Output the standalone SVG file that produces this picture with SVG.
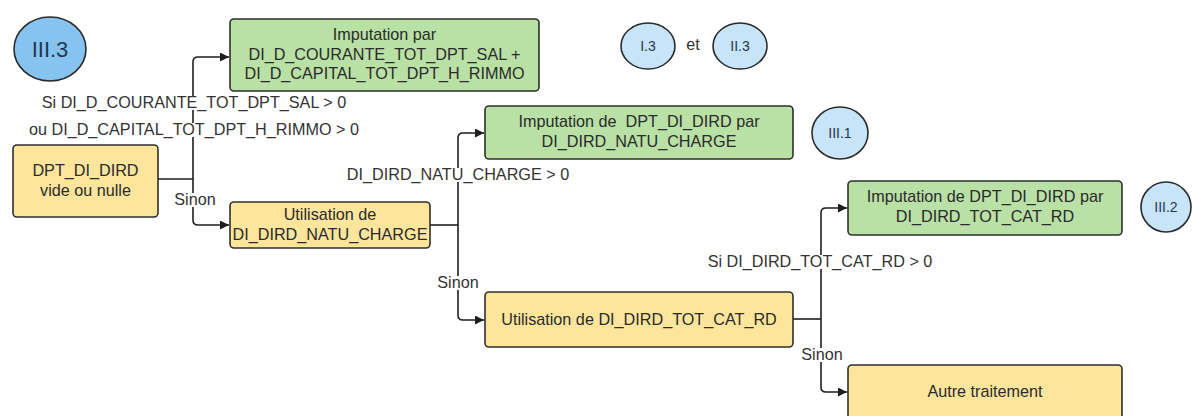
<svg xmlns="http://www.w3.org/2000/svg" width="1192" height="416" viewBox="0 0 1192 416">
  <style>
    .box { stroke: #2f2f2f; stroke-width: 1.6; }
    .green { fill: #b9e0a5; }
    .yellow { fill: #fde59c; }
    .t { font-family: "Liberation Sans", Arial, sans-serif; font-size: 16.2px; fill: #2b2b2b; text-anchor: middle; }
    .lbl { font-family: "Liberation Sans", Arial, sans-serif; font-size: 16.2px; fill: #333333; text-anchor: middle; }
    .bg { fill: #ffffff; }
    .conn { fill: none; stroke: #1e1e1e; stroke-width: 1.6; }
    .circ { stroke: #2a2a2a; stroke-width: 1.6; }
    .ref { font-family: "Liberation Sans", Arial, sans-serif; fill: #23374f; text-anchor: middle; }
  </style>
  <defs>
    <marker id="arrow" viewBox="0 0 10 10" refX="10" refY="5" markerWidth="9" markerHeight="9" markerUnits="userSpaceOnUse" orient="auto">
      <path d="M0,0 L10,5 L0,10 z" fill="#1e1e1e"/>
    </marker>
  </defs>
  <rect width="1192" height="416" fill="#ffffff"/>

  <!-- connectors -->
  <g id="connectors">
    <path class="conn" d="M158,179 H193"/>
    <path class="conn" d="M193,179 V62 Q193,57 198,57 H229" marker-end="url(#arrow)"/>
    <path class="conn" d="M193,179 V220 Q193,225 198,225 H229" marker-end="url(#arrow)"/>
    <path class="conn" d="M430,225 H458"/>
    <path class="conn" d="M458,225 V138 Q458,133 463,133 H484" marker-end="url(#arrow)"/>
    <path class="conn" d="M458,225 V315 Q458,320 463,320 H484" marker-end="url(#arrow)"/>
    <path class="conn" d="M793,319 H821"/>
    <path class="conn" d="M821,319 V213 Q821,208 826,208 H847" marker-end="url(#arrow)"/>
    <path class="conn" d="M821,319 V387 Q821,392 826,392 H847" marker-end="url(#arrow)"/>

    <!-- connector labels -->
    <rect class="bg" x="40" y="96" width="308" height="14"/>
    <text class="lbl" x="194" y="108">Si DI_D_COURANTE_TOT_DPT_SAL &gt; 0</text>
    <rect class="bg" x="28" y="123" width="333" height="14"/>
    <text class="lbl" x="194" y="135">ou DI_D_CAPITAL_TOT_DPT_H_RIMMO &gt; 0</text>
    <rect class="bg" x="173" y="193" width="44" height="14"/>
    <text class="lbl" x="195" y="205">Sinon</text>
    <rect class="bg" x="346" y="168" width="225" height="14"/>
    <text class="lbl" x="458" y="180">DI_DIRD_NATU_CHARGE &gt; 0</text>
    <rect class="bg" x="436" y="276" width="44" height="14"/>
    <text class="lbl" x="458" y="288">Sinon</text>
    <rect class="bg" x="707" y="255" width="227" height="14"/>
    <text class="lbl" x="820" y="267">Si DI_DIRD_TOT_CAT_RD &gt; 0</text>
    <rect class="bg" x="800" y="348" width="44" height="14"/>
    <text class="lbl" x="822" y="360">Sinon</text>
  </g>

  <!-- reference circles -->
  <g id="ref-III3">
    <ellipse class="circ" cx="50" cy="49" rx="36" ry="32" fill="#86c3ee"/>
    <text class="ref" x="50" y="57" font-size="22">III.3</text>
  </g>
  <g id="ref-I3">
    <ellipse class="circ" cx="648" cy="46" rx="27" ry="23" fill="#c8e4f8"/>
    <text class="ref" x="648" y="51" font-size="14">I.3</text>
  </g>
  <text id="et" class="lbl" x="693" y="50" font-size="14">et</text>
  <g id="ref-II3">
    <ellipse class="circ" cx="740" cy="46" rx="27" ry="23" fill="#c8e4f8"/>
    <text class="ref" x="740" y="51" font-size="14">II.3</text>
  </g>
  <g id="ref-III1">
    <ellipse class="circ" cx="840" cy="133" rx="28" ry="26" fill="#c8e4f8"/>
    <text class="ref" x="840" y="138" font-size="14">III.1</text>
  </g>
  <g id="ref-III2">
    <ellipse class="circ" cx="1166" cy="207" rx="25" ry="25" fill="#c8e4f8"/>
    <text class="ref" x="1166" y="212" font-size="14">III.2</text>
  </g>

  <!-- process nodes -->
  <g id="start">
    <rect class="box yellow" x="13" y="145" width="145" height="72" rx="4"/>
    <text class="t" x="85.5" y="176">DPT_DI_DIRD</text>
    <text class="t" x="85.5" y="196">vide ou nulle</text>
  </g>
  <g id="imputation-courante-capital">
    <rect class="box green" x="230" y="19" width="309" height="72" rx="4"/>
    <text class="t" x="384.5" y="40">Imputation par</text>
    <text class="t" x="384.5" y="60">DI_D_COURANTE_TOT_DPT_SAL +</text>
    <text class="t" x="384.5" y="79">DI_D_CAPITAL_TOT_DPT_H_RIMMO</text>
  </g>
  <g id="utilisation-natu">
    <rect class="box yellow" x="230" y="202" width="200" height="46" rx="4"/>
    <text class="t" x="330" y="220">Utilisation de</text>
    <text class="t" x="330" y="240">DI_DIRD_NATU_CHARGE</text>
  </g>
  <g id="imputation-natu">
    <rect class="box green" x="485" y="106" width="308" height="53" rx="4"/>
    <text class="t" x="639" y="127" xml:space="preserve">Imputation de  DPT_DI_DIRD par</text>
    <text class="t" x="639" y="147">DI_DIRD_NATU_CHARGE</text>
  </g>
  <g id="utilisation-cat">
    <rect class="box yellow" x="485" y="292" width="308" height="55" rx="4"/>
    <text class="t" x="639" y="325">Utilisation de DI_DIRD_TOT_CAT_RD</text>
  </g>
  <g id="imputation-cat">
    <rect class="box green" x="848" y="181" width="274" height="54" rx="4"/>
    <text class="t" x="985" y="202">Imputation de DPT_DI_DIRD par</text>
    <text class="t" x="985" y="222">DI_DIRD_TOT_CAT_RD</text>
  </g>
  <g id="autre">
    <rect class="box yellow" x="848" y="365" width="274" height="60" rx="4"/>
    <text class="t" x="985" y="397">Autre traitement</text>
  </g>
</svg>
